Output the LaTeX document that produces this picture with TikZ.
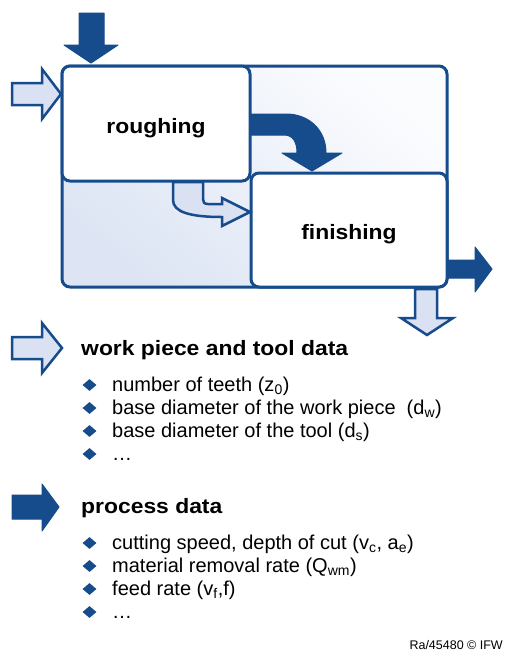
\documentclass[tikz,border=0pt]{standalone}
\usepackage{fontspec}
\setmainfont{Liberation Sans}
\newfontfamily\headfont{Liberation Sans}[FakeStretch=1.1]
\usetikzlibrary{shapes,positioning}
\definecolor{ifwblue}{RGB}{22,75,140}
\definecolor{ifwlight}{RGB}{217,225,242}
\definecolor{ifwpale}{RGB}{251,252,254}
\definecolor{ifwshade}{RGB}{221,229,244}
\tikzstyle{stage} = [rectangle, rounded corners=8pt, draw=ifwblue, line width=3pt, fill=white, font=\headfont\bfseries\fontsize{20.8}{24}\selectfont]
\tikzstyle{darkarrow} = [fill=ifwblue, draw=ifwblue, line width=1pt, line join=round]
\tikzstyle{lightarrow} = [fill=ifwlight, draw=ifwblue, line width=2.5pt, line join=miter]
\tikzstyle{heading} = [anchor=base west, inner sep=0pt, font=\headfont\bfseries\fontsize{20.8}{24}\selectfont]
\tikzstyle{item} = [anchor=base west, inner sep=0pt, font=\fontsize{20}{23}\selectfont]
\tikzstyle{bullet} = [diamond, fill=ifwblue, inner sep=0pt, minimum width=14pt, minimum height=12pt]

\begin{document}
\begin{tikzpicture}[x=1pt, y=-1pt]
\useasboundingbox (0,0) rectangle (508,651);

% Frame round both stages
\node (frame) [rectangle, rounded corners=8pt, draw=ifwblue, line width=3pt, minimum width=385pt, minimum height=221pt, top color=ifwpale, bottom color=ifwshade, shading angle=-40] at (254.5,176.5) {};

% Stages
\node (rough) [stage, minimum width=188pt, minimum height=115pt, text depth=0pt] at (156,123.5) {\raisebox{-4pt}{roughing}};
\node (finish) [stage, minimum width=196pt, minimum height=114pt, text depth=0pt] at (349,230) {\raisebox{-4pt}{finishing}};

% Inputs
\draw[lightarrow] (12,83) -- (42,83) -- (42,69) -- (61,94) -- (42,119) -- (42,105) -- (12,105) -- cycle;
\draw[darkarrow] (79,13) -- (104,13) -- (104,45) -- (118,45) -- (91,63) -- (64,45) -- (79,45) -- cycle;

% Roughing to finishing
\draw[darkarrow] (250,114) -- (286,114) .. controls (309,114) and (326,130) .. (326,153) -- (342,153) -- (312,171) -- (282,153) -- (297,153) .. controls (297,142) and (293,135) .. (284,135) -- (250,135) -- cycle;
\draw[lightarrow] (173,182) -- (173,200) .. controls (173,212) and (190,217) .. (222,217) -- (222,226) -- (250,212) -- (222,198) -- (222,204) -- (208,204) .. controls (204,204) and (203,202) .. (203,199) -- (203,182) -- cycle;

% Outputs
\draw[darkarrow] (448,260) -- (475,260) -- (475,247) -- (492,269) -- (475,292) -- (475,278) -- (448,278) -- cycle;
\draw[lightarrow] (415,289) -- (437,289) -- (437,318) -- (453,318) -- (427,335) -- (401,318) -- (415,318) -- cycle;

% Legend: work piece and tool data
\draw[lightarrow] (12,337) -- (42,337) -- (42,323) -- (62,348) -- (42,373) -- (42,359) -- (12,359) -- cycle;
\node (wpHead) [heading] at (81,355) {work piece and tool data};
\foreach \txt [count=\i from 0] in {{number of teeth (z\textsubscript{0})}, {base diameter of the work piece~ (d\textsubscript{w})}, {base diameter of the tool (d\textsubscript{s})}, {…}} {
  \node (wpBullet\i) [bullet] at (89.5, 385+23*\i) {};
  \node (wpItem\i) [item] at (112, 391+23*\i) {\txt};
}

% Legend: process data
\draw[darkarrow] (12,495) -- (42,495) -- (42,484) -- (59,507) -- (42,531) -- (42,519) -- (12,519) -- cycle;
\node (procHead) [heading] at (81,513) {process data};
\foreach \txt [count=\i from 0] in {{cutting speed, depth of cut (v\textsubscript{c}, a\textsubscript{e})}, {material removal rate (Q\textsubscript{wm})}, {feed rate (v\textsubscript{f},f)}, {…}} {
  \node (procBullet\i) [bullet] at (89.5, 543+23*\i) {};
  \node (procItem\i) [item] at (112, 549+23*\i) {\txt};
}

\node (credit) [anchor=base east, inner sep=0pt, font=\fontsize{12.5}{14}\selectfont] at (503,649) {Ra/45480 © IFW};
\end{tikzpicture}
\end{document}
